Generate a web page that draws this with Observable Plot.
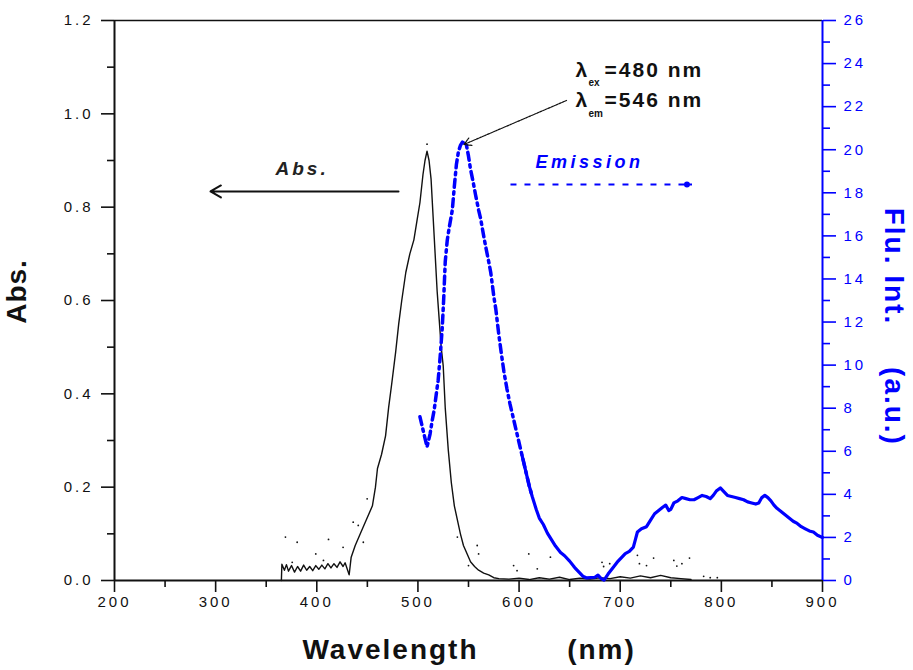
<!DOCTYPE html>
<html>
<head>
<meta charset="utf-8">
<script src="https://cdn.jsdelivr.net/npm/d3@7"></script>
<script src="https://cdn.jsdelivr.net/npm/@observablehq/plot@0.6"></script>
<style>
  html, body { margin: 0; padding: 0; background: #fff; }
  g[aria-label$="tick label"] text { letter-spacing: 3px; }
  g[aria-description="ls2"] text { letter-spacing: 2px; }
  g[aria-description="ls1"] text { letter-spacing: 1px; }
  g[aria-description="ls3"] text { letter-spacing: 3px; }
  g[aria-description="ls35"] text { letter-spacing: 3.5px; }
</style>
</head>
<body>
<div id="chart"></div>
<script>
// ---- data ----
const xTicks = [200, 300, 400, 500, 600, 700, 800, 900];
const xMinor = [250, 350, 450, 550, 650, 750, 850];
const absTicks = [0, 0.2, 0.4, 0.6, 0.8, 1.0, 1.2];
const absMinor = [0.1, 0.3, 0.5, 0.7, 0.9, 1.1];
const fluTicks = [0, 2, 4, 6, 8, 10, 12, 14, 16, 18, 20, 22, 24, 26];
const fluMinor = [1, 3, 5, 7, 9, 11, 13, 15, 17, 19, 21, 23, 25];

// absorption spectrum: [wavelength nm, Abs]
const absorption = [
  [365,0.0],[365.5,0.035],[368,0.022],[370,0.034],[372,0.02],[375,0.032],[378,0.018],[381,0.03],
  [384,0.02],[387,0.033],[390,0.022],[393,0.03],[396,0.021],[399,0.032],[402,0.024],[405,0.033],
  [408,0.025],[411,0.036],[414,0.027],[417,0.036],[420,0.028],[423,0.04],[426,0.03],[428,0.038],
  [430,0.025],[432,0.012],[434,0.05],[438,0.075],[443,0.10],[449,0.13],[455,0.16],[458,0.2],
  [460,0.24],[464,0.27],[468,0.31],[471,0.37],[474,0.42],[478,0.49],[481,0.55],[484,0.6],
  [488,0.66],[492,0.7],[496,0.73],[499,0.77],[502,0.81],[505,0.87],[507,0.9],[509,0.92],
  [511,0.9],[513,0.86],[515,0.78],[517,0.7],[519,0.62],[521,0.56],[523,0.5],[525,0.46],
  [527,0.37],[530,0.28],[533,0.21],[536,0.16],[539,0.13],[542,0.1],[545,0.075],[549,0.055],
  [552,0.04],[556,0.03],[560,0.022],[565,0.016],[570,0.012],[575,0.006],[580,0.004],[590,0.003],
  [600,0.005],[610,0.002],[620,0.006],[630,0.003],[640,0.007],[650,0.002],[660,0.005],[670,0.003],
  [680,0.006],[690,0.004],[700,0.008],[710,0.005],[720,0.01],[730,0.006],[740,0.011],[750,0.006],
  [760,0.004],[770,0.002]
];

// scattered absorption points
const absScatter = [
  [509,0.935],[369,0.093],[380.6,0.082],[411.6,0.088],[426,0.071],[399,0.057],[406.6,0.043],
  [375.7,0.039],[436,0.125],[441,0.118],[449.8,0.175],[446,0.082],[539,0.093],[558.6,0.075],
  [560,0.057],[550,0.032],[594.6,0.032],[598,0.021],[609.6,0.057],[618,0.025],[631,0.05],
  [654,0.029],[682,0.039],[689.6,0.036],[683.6,0.03],[717,0.054],[719,0.036],[726,0.032],
  [733,0.048],[753,0.043],[756,0.031],[761,0.036],[768.5,0.048],[782.5,0.009],[789,0.006],[796,0.006]
];

// emission spectrum: [wavelength nm, Flu. Int. a.u.]
const emission = [
  [502,7.6],[504,7.2],[506,6.8],[508,6.4],[509,6.2],[510.5,6.5],[512,6.8],[514,7.4],[516,7.9],
  [518,8.6],[520,9.3],[522,10.4],[524,11.7],[525.5,13.1],[527,14.8],[529,15.8],[531,16.4],
  [534,17.2],[536,18.3],[538,19.3],[540,19.9],[542,20.2],[544,20.35],[546,20.3],[548,20.2],
  [550,19.7],[552,19.1],[555,18.4],[557,17.9],[560,17.2],[562,16.8],[565,16.0],[567,15.5],
  [570,14.8],[572,14.3],[575,13.2],[577,12.6],[580,11.4],[582,10.7],[585,9.7],[588,8.9],
  [591,8.2],[595,7.4],[599,6.6],[603,5.8],[607,5.0],[610,4.4],[613,3.9],[617,3.3],[620,2.9],
  [624,2.6],[628,2.2],[632,1.9],[636,1.6],[641,1.3],[645,1.15],[650,0.9],[655,0.6],[659,0.4],
  [663,0.2],[667,0.12],[671,0.14],[675,0.15],[678,0.25],[681,0.1],[684,0.02],[688,0.3],
  [693,0.6],[697,0.85],[701,1.05],[705,1.25],[709,1.35],[713,1.55],[715,1.9],[717,2.25],
  [721,2.4],[726,2.5],[730,2.8],[734,3.1],[738,3.25],[742,3.4],[745,3.5],[748,3.25],[750,3.3],
  [753,3.6],[757,3.7],[761,3.85],[765,3.8],[769,3.75],[773,3.75],[777,3.85],[781,3.95],
  [785,3.9],[789,3.8],[792,3.95],[795,4.15],[799,4.3],[802,4.15],[806,3.95],[810,3.9],
  [814,3.85],[818,3.8],[822,3.75],[826,3.65],[830,3.6],[834,3.55],[837,3.6],[840,3.85],
  [843,3.95],[846,3.85],[849,3.7],[852,3.5],[855,3.35],[859,3.2],[863,3.05],[867,2.9],
  [871,2.75],[875,2.65],[879,2.5],[883,2.4],[887,2.3],[891,2.25],[895,2.1],[900,2.0]
];
const dashedUntil = 613; // emission drawn dash-dot up to here
const solidFrom = 603;   // and solid from here (overlapping)

// annotation anchor points in data coordinates [nm, Abs]
const absLegendArrow = {x1: 480.8, x2: 294.9, y: 0.8336};
const absLegendText = {x: 359.2, y: 0.868, text: "Abs."};
const emLegendLine = {x1: 591.5, x2: 766, y: 0.8486};
const emLegendText = {x: 616.2, y: 0.883, text: "Emission"};
const peakArrow = {x1: 646.9, y1: 1.0286, x2: 545.5, y2: 0.9343};
const lambdaLines = [
  {x: 655.8, y: 1.0785, sub: "ex", rest: "=480 nm", ysub: 1.0586},
  {x: 655.8, y: 1.0142, sub: "em", rest: "=546 nm", ysub: 0.9935}
];

// ---- chart ----
const k = 1.2 / 26; // Flu. Int. -> Abs scale
const BLUE = "#0000ff";
const font = "'Liberation Sans', Arial, Helvetica, sans-serif";
const title = {textAnchor: "middle", lineAnchor: "middle", fontSize: 28, fontWeight: "bold"};

const plot = Plot.plot({
  width: 913,
  height: 670,
  marginLeft: 114,
  marginRight: 91,
  marginTop: 20,
  marginBottom: 90,
  x: {domain: [200, 900]},
  y: {domain: [0, 1.2]},
  style: {fontFamily: font, background: "white", color: "#111"},
  marks: [
    // axes ticks
    Plot.axisX({ticks: xMinor, tickSize: 7, tickFormat: () => "", label: null, strokeWidth: 1.6}),
    Plot.axisX({ticks: xTicks, tickSize: 12, tickPadding: 4, tickFormat: d => String(d), label: null, fontSize: 15, strokeWidth: 1.6}),
    Plot.axisY({ticks: absMinor, tickSize: 7, tickFormat: () => "", label: null, strokeWidth: 1.6}),
    Plot.axisY({ticks: absTicks, tickSize: 13, tickPadding: 8, tickFormat: d => d.toFixed(1), label: null, fontSize: 15, strokeWidth: 1.6}),
    Plot.axisY({anchor: "right", ticks: fluMinor.map(t => t * k), tickSize: 7, tickFormat: () => "", label: null, stroke: BLUE, strokeWidth: 1.6}),
    Plot.axisY({anchor: "right", ticks: fluTicks.map(t => t * k), tickSize: 13, tickPadding: 8, tickFormat: d => String(Math.round(d / k)), label: null, fontSize: 15, stroke: BLUE, fill: BLUE, strokeWidth: 1.6}),
    // frame lines
    Plot.ruleY([1.2], {stroke: "#111", strokeWidth: 1.6}),
    Plot.ruleY([0], {stroke: "#111", strokeWidth: 2}),
    Plot.ruleX([200], {stroke: "#111", strokeWidth: 2}),
    Plot.ruleX([900], {stroke: BLUE, strokeWidth: 2}),
    // data
    Plot.dot(absScatter, {x: d => d[0], y: d => d[1], r: 0.9, fill: "#111", stroke: null}),
    Plot.line(absorption, {x: d => d[0], y: d => d[1], stroke: "#111", strokeWidth: 1.4}),
    Plot.line(emission.filter(d => d[0] <= dashedUntil), {x: d => d[0], y: d => d[1] * k, stroke: BLUE, strokeWidth: 3.5, strokeDasharray: "8,4.5,2.5,4.5"}),
    Plot.line(emission.filter(d => d[0] >= solidFrom), {x: d => d[0], y: d => d[1] * k, stroke: BLUE, strokeWidth: 3.2}),
    // legend-like annotations
    Plot.arrow([absLegendArrow], {x1: "x1", x2: "x2", y1: "y", y2: "y", stroke: "#111", strokeWidth: 2, headLength: 9}),
    Plot.text([absLegendText], {x: "x", y: "y", text: "text", textAnchor: "start", lineAnchor: "bottom", fontSize: 19, fontWeight: "bold", fontStyle: "italic", fill: "#222", ariaDescription: "ls3"}),
    Plot.link([emLegendLine], {x1: "x1", x2: "x2", y1: "y", y2: "y", stroke: BLUE, strokeWidth: 2, strokeDasharray: "6,8"}),
    Plot.dot([emLegendLine], {x: "x2", y: "y", r: 3, fill: BLUE, stroke: null}),
    Plot.link([emLegendLine], {x1: "x2", x2: d => d.x2 + 5, y1: "y", y2: "y", stroke: BLUE, strokeWidth: 2}),
    Plot.text([emLegendText], {x: "x", y: "y", text: "text", textAnchor: "start", lineAnchor: "bottom", fontSize: 18, fontWeight: "bold", fontStyle: "italic", fill: BLUE, ariaDescription: "ls35"}),
    Plot.arrow([peakArrow], {x1: "x1", y1: "y1", x2: "x2", y2: "y2", stroke: "#111", strokeWidth: 1.2, strokeDasharray: "2,1", headLength: 10}),
    Plot.text(lambdaLines, {x: "x", y: "y", text: () => "λ", textAnchor: "start", lineAnchor: "bottom", fontSize: 21, fontWeight: "bold", fill: "#111"}),
    Plot.text(lambdaLines, {x: "x", y: "ysub", text: "sub", textAnchor: "start", lineAnchor: "bottom", dx: 13, fontSize: 10, fontWeight: "bold", fill: "#111"}),
    Plot.text(lambdaLines, {x: "x", y: "y", text: "rest", textAnchor: "start", lineAnchor: "bottom", dx: 29, fontSize: 21, fontWeight: "bold", fill: "#111", ariaDescription: "ls2"}),
    // axis titles
    Plot.text(["Abs."], {...title, text: d => d, frameAnchor: "left", dx: -97, dy: -9, rotate: -90, fill: "#111", ariaDescription: "ls1"}),
    Plot.text(["Flu. Int."], {...title, text: d => d, frameAnchor: "right", dx: 71, dy: -34, rotate: 90, fill: BLUE, ariaDescription: "ls2"}),
    Plot.text(["(a.u.)"], {...title, text: d => d, frameAnchor: "right", dx: 71, dy: 106, rotate: 90, fill: BLUE, ariaDescription: "ls2"}),
    Plot.text(["Wavelength"], {...title, text: d => d, frameAnchor: "bottom", dx: -78, dy: 70, fill: "#111", ariaDescription: "ls2"}),
    Plot.text(["(nm)"], {...title, text: d => d, frameAnchor: "bottom", dx: 133, dy: 70, fill: "#111", ariaDescription: "ls2"})
  ]
});
document.getElementById("chart").appendChild(plot);
</script>
</body>
</html>
